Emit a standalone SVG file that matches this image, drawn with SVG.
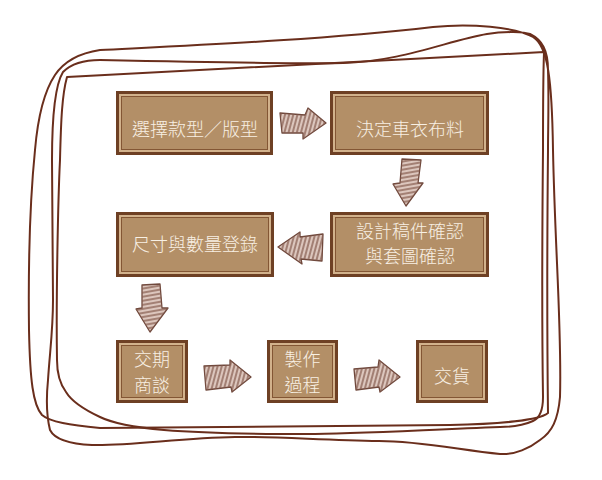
<svg xmlns="http://www.w3.org/2000/svg" width="602" height="480" viewBox="0 0 602 480">
<style>
.frame{fill:none;stroke:#6a2e1c;stroke-width:2;stroke-linejoin:round}
.bo{fill:#6e4024}
.bb{fill:#d2b28c}
.bi{fill:#b38f67;stroke:#835634;stroke-width:1}
.t{font-family:"Noto Sans CJK TC","Noto Sans CJK SC",sans-serif;font-size:18px;fill:#f8f0e4;text-anchor:middle;font-weight:300}
.ah{fill:#dcc6bd;stroke:#6f483c;stroke-width:1.3;stroke-linejoin:round}
.ahh{fill:url(#hh);stroke:none}
.ahv{fill:url(#hv);stroke:none}
</style>
<defs>
<pattern id="hh" patternUnits="userSpaceOnUse" width="4" height="8" patternTransform="rotate(15)">
<line x1="1" y1="0" x2="1" y2="8" stroke="#83594c" stroke-width="1.3"/>
</pattern>
<pattern id="hv" patternUnits="userSpaceOnUse" width="8" height="4" patternTransform="rotate(-10)">
<line x1="0" y1="1" x2="8" y2="1" stroke="#83594c" stroke-width="1.3"/>
</pattern>
</defs>
<rect width="602" height="480" fill="#ffffff"/>
<g id="frame">
<path class="frame" d="M55,75 C65,60 80,53 100,50 C200,45 320,40 433,27 C470,23 515,27 533,37 C548,46 552,80 553,150 C555,250 562,330 560,397 C558,420 552,432 540,440 C530,448 515,455 500,454 C460,450 420,441 379,441 C320,440 270,436 235,437 C180,438 130,446 92,445 C70,444 55,440 50,430 C47,418 46,400 48,380 C50,350 53,330 53,300 C53,250 52,200 52,160 C52,120 55,85 63,72 C72,63 85,60 100,60 C200,62 300,64 343,63 C400,62 450,40 487,34 C505,31 525,32 530,34 C542,40 548,50 548,70 C549,100 548,130 548,150 C547,250 547,330 548,413 C540,420 500,424 450,425 L100,428 C70,425 50,422 42,415 C33,405 30,380 29,330 C28,250 31,190 35,150 C38,115 45,90 55,75 Z"/>
<path class="frame" d="M67,77 L544,52 C543,80 543,120 543,150 C542,250 542,330 543,397 C543,410 540,418 533,421 C522,426 510,427 500,427 C420,430 350,434 307,434 C240,434 200,433 164,430 C130,427 110,422 100,417 C85,410 72,402 66,392 C60,384 57,375 57,360 C56,300 58,200 60,160 C61,120 62,95 67,77 Z"/>
</g>
<g id="n1">
<rect class="bo" x="116" y="91" width="157" height="64"/>
<rect class="bb" x="119" y="94" width="151" height="58"/>
<rect class="bi" x="121.5" y="96.5" width="146" height="53"/>
<text class="t" x="195" y="136">選擇款型／版型</text>
</g>
<g id="n2">
<rect class="bo" x="330" y="91" width="159" height="64"/>
<rect class="bb" x="333" y="94" width="153" height="58"/>
<rect class="bi" x="335.5" y="96.5" width="148" height="53"/>
<text class="t" x="410" y="136">決定車衣布料</text>
</g>
<g id="n3">
<rect class="bo" x="330" y="212" width="159" height="65"/>
<rect class="bb" x="333" y="215" width="153" height="59"/>
<rect class="bi" x="335.5" y="217.5" width="148" height="54"/>
<text class="t" x="410" y="238">設計稿件確認</text>
<text class="t" x="410" y="263">與套圖確認</text>
</g>
<g id="n4">
<rect class="bo" x="116" y="212" width="158" height="65"/>
<rect class="bb" x="119" y="215" width="152" height="59"/>
<rect class="bi" x="121.5" y="217.5" width="147" height="54"/>
<text class="t" x="195" y="251">尺寸與數量登錄</text>
</g>
<g id="n5">
<rect class="bo" x="116" y="340" width="72" height="63"/>
<rect class="bb" x="119" y="343" width="66" height="57"/>
<rect class="bi" x="121.5" y="345.5" width="61" height="52"/>
<text class="t" x="152" y="366">交期</text>
<text class="t" x="152" y="392">商談</text>
</g>
<g id="n6">
<rect class="bo" x="267" y="340" width="71" height="63"/>
<rect class="bb" x="270" y="343" width="65" height="57"/>
<rect class="bi" x="272.5" y="345.5" width="60" height="52"/>
<text class="t" x="302.5" y="366">製作</text>
<text class="t" x="302.5" y="392">過程</text>
</g>
<g id="n7">
<rect class="bo" x="416" y="340" width="72" height="63"/>
<rect class="bb" x="419" y="343" width="66" height="57"/>
<rect class="bi" x="421.5" y="345.5" width="61" height="52"/>
<text class="t" x="452" y="383">交貨</text>
</g>
<g id="connectors">
<g>
<path class="ah" d="M280,113 L305,115 L308,108 L326,123 L303,139 L303,133 L282,133 Z"/>
<path class="ahh" d="M280,113 L305,115 L308,108 L326,123 L303,139 L303,133 L282,133 Z"/>
</g>
<g>
<path class="ah" d="M402,159 L421,160 L418,183 L423,183 L406,206 L393,184 L400,183 Z"/>
<path class="ahv" d="M402,159 L421,160 L418,183 L423,183 L406,206 L393,184 L400,183 Z"/>
</g>
<g>
<path class="ah" d="M323,234 L322,261 L301,259 L302,264 L278,247 L300,232 L300,237 Z"/>
<path class="ahh" d="M323,234 L322,261 L301,259 L302,264 L278,247 L300,232 L300,237 Z"/>
</g>
<g>
<path class="ah" d="M142,285 L160,284 L162,308 L168,308 L150,332 L136,309 L142,308 Z"/>
<path class="ahv" d="M142,285 L160,284 L162,308 L168,308 L150,332 L136,309 L142,308 Z"/>
</g>
<g>
<path class="ah" d="M204,366 L230,365 L230,360 L251,377 L232,392 L231,387 L206,390 Z"/>
<path class="ahh" d="M204,366 L230,365 L230,360 L251,377 L232,392 L231,387 L206,390 Z"/>
</g>
<g>
<path class="ah" d="M354,369 L378,367 L379,360 L400,377 L380,392 L379,387 L356,390 Z"/>
<path class="ahh" d="M354,369 L378,367 L379,360 L400,377 L380,392 L379,387 L356,390 Z"/>
</g>
</g>
</svg>
